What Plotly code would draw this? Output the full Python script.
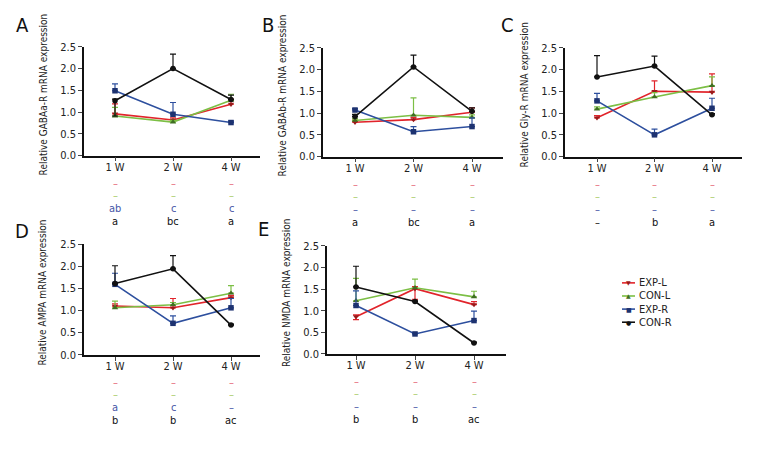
import plotly.graph_objects as go

W, H = 780, 456
FONT = "DejaVu Sans Condensed, Liberation Sans Narrow, Arial Narrow, sans-serif"

# ---------------- data ----------------
weeks = ["1 W", "2 W", "4 W"]
series_names = ["EXP-L", "CON-L", "EXP-R", "CON-R"]
panel_letters = ["A", "B", "C", "D", "E"]
ytitles = [
    "Relative GABAa-R mRNA expression",
    "Relative GABAb-R mRNA expression",
    "Relative Gly-R mRNA expression",
    "Relative AMPA mRNA expression",
    "Relative NMDA mRNA expression",
]
ytick_vals = [0, 0.5, 1.0, 1.5, 2.0, 2.5]
ytick_text = ["0.0", "0.5", "1.0", "1.5", "2.0", "2.5"]

# panel A  GABAa-R
A_exp_l = [0.96, 0.82, 1.18]
A_con_l = [0.91, 0.77, 1.27]
A_exp_r = [1.49, 0.95, 0.76]
A_con_r = [1.26, 2.00, 1.29]
A_err = [[0.23, 0.05, 0.12], [0.20, 0.04, 0.14], [0.16, 0.27, 0.03], [0.04, 0.33, 0.10]]
A_errm = [[0, 0, 0], [0, 0, 0], [0, 0, 0], [0.35, 0, 0]]
# panel B  GABAb-R
B_exp_l = [0.79, 0.85, 1.02]
B_con_l = [0.83, 0.95, 0.90]
B_exp_r = [1.07, 0.57, 0.69]
B_con_r = [0.92, 2.06, 1.04]
B_err = [[0.05, 0.05, 0.10], [0.04, 0.40, 0.06], [0.03, 0.12, 0.20], [0.05, 0.27, 0.08]]
B_errm = [[0, 0, 0], [0, 0, 0], [0, 0, 0], [0, 0, 0]]
# panel C  Gly-R
C_exp_l = [0.89, 1.50, 1.48]
C_con_l = [1.09, 1.37, 1.63]
C_exp_r = [1.28, 0.50, 1.11]
C_con_r = [1.83, 2.08, 0.96]
C_err = [[0.05, 0.24, 0.42], [0.05, 0.10, 0.20], [0.17, 0.13, 0.23], [0.49, 0.23, 0.03]]
C_errm = [[0, 0, 0], [0, 0, 0], [0, 0, 0], [0, 0, 0]]
# panel D  AMPA
D_exp_l = [1.10, 1.06, 1.29]
D_con_l = [1.06, 1.13, 1.39]
D_exp_r = [1.59, 0.71, 1.06]
D_con_r = [1.61, 1.94, 0.67]
D_err = [[0.05, 0.21, 0.05], [0.15, 0.05, 0.17], [0.25, 0.17, 0.21], [0.40, 0.30, 0.02]]
D_errm = [[0, 0, 0], [0, 0, 0], [0, 0, 0], [0, 0, 0]]
# panel E  NMDA
E_exp_l = [0.86, 1.51, 1.14]
E_con_l = [1.23, 1.53, 1.32]
E_exp_r = [1.12, 0.46, 0.77]
E_con_r = [1.55, 1.21, 0.25]
E_err = [[0.04, 0.05, 0.07], [0.52, 0.20, 0.13], [0.34, 0.02, 0.22], [0.48, 0.02, 0.02]]
E_errm = [[0.07, 0.25, 0], [0, 0, 0], [0, 0, 0], [0, 0, 0]]

# significance letter rows (EXP-L, CON-L, EXP-R, CON-R) per panel
A_sig = [["–", "–", "–"], ["–", "–", "–"], ["ab", "c", "c"], ["a", "bc", "a"]]
B_sig = [["–", "–", "–"], ["–", "–", "–"], ["–", "–", "–"], ["a", "bc", "a"]]
C_sig = [["–", "–", "–"], ["–", "–", "–"], ["–", "–", "–"], ["–", "b", "a"]]
D_sig = [["–", "–", "–"], ["–", "–", "–"], ["a", "c", "–"], ["b", "b", "ac"]]
E_sig = [["–", "–", "–"], ["–", "–", "–"], ["–", "–", "–"], ["b", "b", "ac"]]

panel_values = [
    [A_exp_l, A_con_l, A_exp_r, A_con_r],
    [B_exp_l, B_con_l, B_exp_r, B_con_r],
    [C_exp_l, C_con_l, C_exp_r, C_con_r],
    [D_exp_l, D_con_l, D_exp_r, D_con_r],
    [E_exp_l, E_con_l, E_exp_r, E_con_r],
]
panel_err = [A_err, B_err, C_err, D_err, E_err]
panel_errm = [A_errm, B_errm, C_errm, D_errm, E_errm]
panel_sig = [A_sig, B_sig, C_sig, D_sig, E_sig]

# ---------------- style ----------------
line_colors = ["#e1242b", "#7cbf45", "#2d4f9e", "#111111"]
marker_colors = ["#9a1a1a", "#3f6e22", "#1d3270", "#111111"]
sig_colors = ["#e66a7a", "#a9cc6a", "#4656a6", "#111111"]
symbols = ["triangle-down", "triangle-up", "square", "circle"]

# panel geometry in pixels: axis left, axis right, top (y=2.5), bottom (y=0), first category px, category spacing
geom = [
    (84, 260, 42, 154, 115, 58),
    (323, 503, 43, 155, 355, 58.5),
    (565, 742, 43, 155, 597, 57.5),
    (84, 260, 245, 359, 115, 58),
    (327, 506, 247, 358, 356, 59),
]
letter_pos = [(22, 20), (268, 20), (507, 20), (22, 232), (263, 230)]

def px(x):
    return x / W

def py(y):
    return 1 - y / H

fig = go.Figure()
layout = dict(
    width=W, height=H, margin=dict(l=0, r=0, t=0, b=0),
    paper_bgcolor="white", plot_bgcolor="white", showlegend=False,
    font=dict(family=FONT, size=11, color="#111111"),
)
annotations = []
xpos = [0, 1, 2]

for p in range(5):
    l, r, t, b, c0, sp = geom[p]
    suffix = "" if p == 0 else str(p + 1)
    xa, ya = "x" + suffix, "y" + suffix
    layout["xaxis" + suffix] = dict(
        domain=[px(l), px(r)], anchor=ya,
        range=[(l - c0) / sp, (r - c0) / sp],
        tickvals=xpos, ticktext=weeks, ticks="outside", ticklen=4, tickwidth=1.3,
        ticklabelstandoff=-4,
        showline=True, linecolor="#111111", linewidth=1.6, showgrid=False, zeroline=False,
        tickfont=dict(family=FONT, size=11, color="#222222"),
    )
    layout["yaxis" + suffix] = dict(
        domain=[py(b), py(t)], anchor=xa, range=[0, 2.5],
        tickvals=ytick_vals, ticktext=ytick_text, ticks="outside", ticklen=4, tickwidth=1.3,
        showline=True, linecolor="#111111", linewidth=1.6, showgrid=False, zeroline=False,
        tickfont=dict(family=FONT, size=11, color="#222222"),
    )
    for s in range(4):
        fig.add_trace(go.Scatter(
            x=xpos, y=panel_values[p][s], xaxis=xa, yaxis=ya,
            mode="lines+markers", name=series_names[s],
            line=dict(color=line_colors[s], width=1.6),
            marker=dict(symbol=symbols[s], size=5.5, color=marker_colors[s]),
            error_y=dict(type="data", symmetric=False, array=panel_err[p][s],
                         arrayminus=panel_errm[p][s], color=line_colors[s],
                         thickness=1.2, width=3),
            cliponaxis=False,
        ))
    # y-axis title
    annotations.append(dict(
        x=px(l - 41), y=py((t + b) / 2 - 7), xref="paper", yref="paper",
        text=ytitles[p], textangle=-90, showarrow=False,
        xanchor="center", yanchor="middle",
        font=dict(family=FONT, size=10, color="#222222"),
    ))
    # panel letter
    annotations.append(dict(
        x=px(letter_pos[p][0]), y=py(letter_pos[p][1]), xref="paper", yref="paper",
        text=panel_letters[p], showarrow=False, xanchor="center", yanchor="middle",
        font=dict(family=FONT, size=20, color="#111111"),
    ))
    # significance rows
    row_off = [28.5, 41, 54.5, 67.5]
    for rr in range(4):
        for k in range(3):
            annotations.append(dict(
                x=xpos[k], xref=xa, y=py(b + row_off[rr]), yref="paper",
                text=panel_sig[p][rr][k], showarrow=False,
                xanchor="center", yanchor="middle",
                font=dict(family=FONT, size=11, color=sig_colors[rr]),
            ))

# manual compact legend
shapes = []
legend_glyphs = ["▼", "▲", "■", "●"]
legend_y = [285, 298.5, 312, 325.5]
for s in range(4):
    yy = legend_y[s]
    shapes.append(dict(type="line", xref="paper", yref="paper",
                       x0=px(622), x1=px(635), y0=py(yy), y1=py(yy),
                       line=dict(color=line_colors[s], width=1.6)))
    annotations.append(dict(x=px(628.5), y=py(yy), xref="paper", yref="paper",
                            text=legend_glyphs[s], showarrow=False,
                            xanchor="center", yanchor="middle",
                            font=dict(family="DejaVu Sans", size=6, color=marker_colors[s])))
    annotations.append(dict(x=px(637), y=py(yy), xref="paper", yref="paper",
                            text=series_names[s], showarrow=False,
                            xanchor="left", yanchor="middle",
                            font=dict(family=FONT, size=11, color="#222222")))

layout["annotations"] = annotations
layout["shapes"] = shapes
fig.update_layout(**layout)
fig.write_html("out.html", config={"displayModeBar": False},
               post_script="document.body.style.margin='0px';")
